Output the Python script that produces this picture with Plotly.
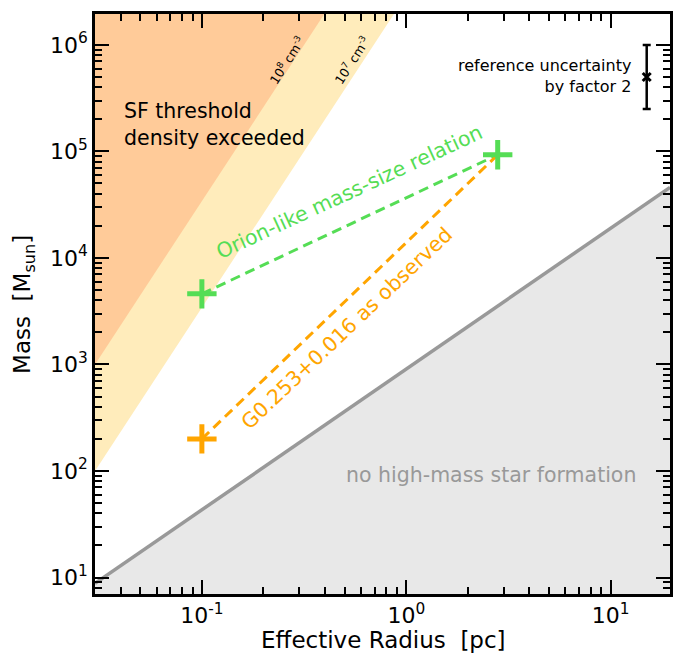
import numpy as np
import plotly.graph_objects as go

# ---- data ----
# high-mass star formation threshold line (M ~ 870 r^1.33)
hm_r = [0.03, 19.5]
hm_m = [8.8, 46000]
# density thresholds (M ~ r^3)
n8_r = [0.03, 0.397]
n8_m = [1000, 1.95e6]
n7_r = [0.03, 0.87]
n7_m = [100, 1.95e6]
# clump points
clump_r = [0.1, 2.8]
orion_m = [4600, 93000]
g0253_m = [200, 93000]
# reference uncertainty
ref_r = [15.0]
ref_m = [5.0e5]
ref_err_plus = [5.0e5]
ref_err_minus = [2.5e5]

XMIN, XMAX = 0.03, 19.5
YMIN, YMAX = 7, 1.95e6

FONT = "DejaVu Sans"
ORANGE_FILL = "#ffcb99"
YELLOW_FILL = "#ffecbb"
GRAY_FILL = "#e8e8e8"
GRAY_LINE = "#999999"
GREEN = "#55dd55"
ORANGE = "#ffa500"

fig = go.Figure()

# yellow band (10^7 cm^-3 region)
fig.add_trace(go.Scatter(
    x=[n7_r[0], n7_r[1], n7_r[0]], y=[n7_m[0], n7_m[1], n7_m[1]],
    fill="toself", fillcolor=YELLOW_FILL, mode="none", hoverinfo="skip", showlegend=False))
# orange band (10^8 cm^-3 region)
fig.add_trace(go.Scatter(
    x=[n8_r[0], n8_r[1], n8_r[0]], y=[n8_m[0], n8_m[1], n8_m[1]],
    fill="toself", fillcolor=ORANGE_FILL, mode="none", hoverinfo="skip", showlegend=False))
# gray region
fig.add_trace(go.Scatter(
    x=[hm_r[0], hm_r[1], hm_r[1], hm_r[0]], y=[hm_m[0], hm_m[1], YMIN, YMIN],
    fill="toself", fillcolor=GRAY_FILL, mode="none", hoverinfo="skip", showlegend=False))
fig.add_trace(go.Scatter(
    x=hm_r, y=hm_m, mode="lines", line=dict(color=GRAY_LINE, width=3.5),
    hoverinfo="skip", showlegend=False))

# dashed relations
fig.add_trace(go.Scatter(
    x=clump_r, y=orion_m, mode="lines",
    line=dict(color=GREEN, width=3, dash="10px,6px"), showlegend=False))
fig.add_trace(go.Scatter(
    x=clump_r, y=g0253_m, mode="lines",
    line=dict(color=ORANGE, width=3, dash="10px,6px"), showlegend=False))

# markers
fig.add_trace(go.Scatter(
    x=[clump_r[0]], y=[g0253_m[0]], mode="markers",
    marker=dict(symbol="cross-thin", size=21, line=dict(color=ORANGE, width=5)),
    showlegend=False))
fig.add_trace(go.Scatter(
    x=clump_r, y=orion_m, mode="markers",
    marker=dict(symbol="cross-thin", size=21, line=dict(color=GREEN, width=5)),
    showlegend=False))

# reference uncertainty
fig.add_trace(go.Scatter(
    x=ref_r, y=ref_m, mode="markers",
    marker=dict(symbol="x-thin", size=8, line=dict(color="black", width=3)),
    error_y=dict(type="data", array=ref_err_plus, arrayminus=ref_err_minus,
                 color="black", thickness=2.5, width=4),
    showlegend=False))

def minor_vals(lo, hi):
    vals = []
    for e in range(-3, 8):
        for m in range(2, 10):
            v = m * 10.0 ** e
            if lo <= v <= hi:
                vals.append(v)
    return vals

axis_common = dict(
    type="log", showline=True, linecolor="black", linewidth=2.5, mirror="allticks",
    ticks="inside", ticklen=14, tickwidth=2, tickcolor="black",
    showgrid=False, zeroline=False,
    tickfont=dict(family=FONT, size=22, color="black"),
)

fig.update_xaxes(
    **axis_common,
    range=[np.log10(XMIN), np.log10(XMAX)],
    tickvals=[0.1, 1, 10],
    ticktext=["10<sup>-1</sup>", "10<sup>0</sup>", "10<sup>1</sup>"],
    minor=dict(ticks="inside", ticklen=7, tickwidth=2, tickcolor="black",
               tickvals=minor_vals(XMIN, XMAX), showgrid=False),
)
fig.update_yaxes(
    **axis_common,
    range=[np.log10(YMIN), np.log10(YMAX)],
    tickvals=[10, 100, 1e3, 1e4, 1e5, 1e6],
    ticktext=["10<sup>1</sup>", "10<sup>2</sup>", "10<sup>3</sup>",
              "10<sup>4</sup>", "10<sup>5</sup>", "10<sup>6</sup>"],
    minor=dict(ticks="inside", ticklen=7, tickwidth=2, tickcolor="black",
               tickvals=minor_vals(YMIN, YMAX), showgrid=False),
)

ann = []
def add_text(text, lx, ly, size, color="black", angle=0, xanchor="center", align="center"):
    ann.append(dict(text=text, x=lx, y=ly, xref="x", yref="y", showarrow=False,
                    font=dict(family=FONT, size=size, color=color), textangle=angle,
                    xanchor=xanchor, yanchor="middle", align=align))

add_text("SF threshold<br>density exceeded", -1.392, 5.254, 20.5, xanchor="left", align="left")
add_text("10<sup>8</sup> cm<sup>-3</sup>", -0.585, 5.859, 12.5, angle=-57)
add_text("10<sup>7</sup> cm<sup>-3</sup>", -0.267, 5.859, 12.5, angle=-57)
add_text("reference uncertainty<br>by factor 2", 1.109, 5.71, 16, xanchor="right", align="right")
add_text("Orion-like mass-size relation", -0.279, 4.621, 20.5, color=GREEN, angle=-24.8)
add_text("G0.253+0.016 as observed", -0.289, 3.340, 20.5, color=ORANGE, angle=-43.6)
add_text("no high-mass star formation", 0.4155, 1.966, 20.5, color=GRAY_LINE)

# axis titles
ann.append(dict(text="Effective Radius  [pc]", x=0.502, y=-0.079, xref="paper", yref="paper",
                showarrow=False, font=dict(family=FONT, size=23, color="black"),
                xanchor="center", yanchor="middle"))
ann.append(dict(text="Mass  [M<sub>sun</sub>]", x=-0.1246, y=0.499, xref="paper", yref="paper",
                showarrow=False, font=dict(family=FONT, size=23, color="black"),
                textangle=-90, xanchor="center", yanchor="middle"))

fig.update_layout(
    width=675, height=655,
    margin=dict(l=95, r=2, t=14, b=61),
    plot_bgcolor="white", paper_bgcolor="white",
    annotations=ann,
    showlegend=False,
)

fig.write_html("out.html")
